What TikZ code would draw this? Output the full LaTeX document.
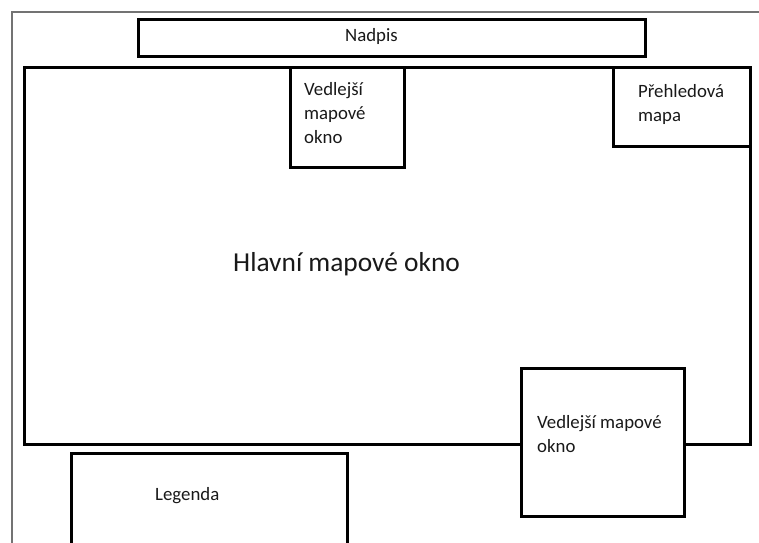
\documentclass[tikz,border=0pt]{standalone}
\usepackage{fontspec}
\setmainfont{Carlito}
\begin{document}
\begin{tikzpicture}[x=1pt,y=-1pt,
  box/.style={draw=black,line width=3pt,fill=white},
  small/.style={font=\fontsize{18.8}{22}\selectfont,inner sep=0pt,anchor=base west,text=black!90},
  big/.style={font=\fontsize{27.4}{32}\selectfont,inner sep=0pt,anchor=base west,text=black!90},
  frameline/.style={draw=black!55,line width=1.3pt}]
\useasboundingbox[fill=white] (0,0) rectangle (759,542);
\clip (0,0) rectangle (759,542);
% page frame
\coordinate (pf1) at (12,560);
\coordinate (pf2) at (12,12);
\coordinate (pf3) at (780,12);
\draw[frameline] (pf1) -- (pf2) -- (pf3);
% boxes
\draw[box] (138,19) rectangle (645,56);
\node[small] (nadpis) at (345,41) {Nadpis};
\draw[box] (24,67) rectangle (750,444);
\node[big] (hlavni) at (233,271) {Hlavní mapové okno};
\draw[box] (290,67) rectangle (404,167);
\node[small] (v1a) at (304,95) {Vedlejší};
\node[small] (v1b) at (304,119) {mapové};
\node[small] (v1c) at (304,143) {okno};
\draw[box] (613,67) rectangle (750,146);
\node[small] (p1) at (638,97) {Přehledová};
\node[small] (p2) at (638,121) {mapa};
\draw[box] (521,368) rectangle (684,516);
\node[small] (v2a) at (537,428) {Vedlejší mapové};
\node[small] (v2b) at (537,452) {okno};
\draw[box] (71,560) -- (71,453) -- (347,453) -- (347,560);
\node[small] (leg) at (155,500) {Legenda};
\end{tikzpicture}
\end{document}
